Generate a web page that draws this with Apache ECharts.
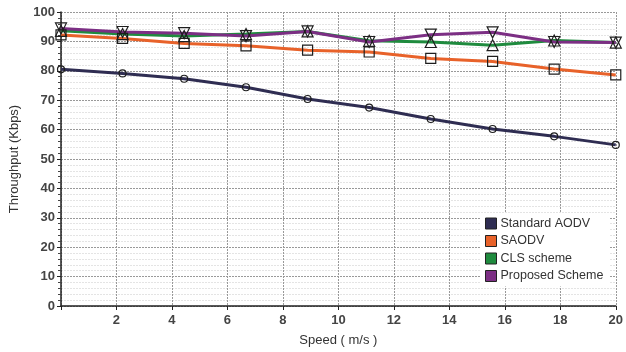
<!DOCTYPE html>
<html>
<head>
<meta charset="utf-8">
<script src="https://cdn.jsdelivr.net/npm/echarts@6/dist/echarts.min.js"></script>
<style>
  html, body { margin: 0; padding: 0; background: #fff; }
  #chart { width: 626px; height: 352px; }
</style>
</head>
<body>
<div id="chart"></div>
<script>
// Node speed (m/s) at each simulation run
const speeds = [0, 2.22, 4.44, 6.67, 8.89, 11.11, 13.33, 15.56, 17.78, 20];

// Throughput (Kbps) per routing scheme
const standardAodv = [80.5, 79.1, 77.3, 74.4, 70.4, 67.5, 63.6, 60.2, 57.7, 54.8];
const saodv = [92.2, 91.0, 89.3, 88.5, 87.0, 86.4, 84.2, 83.2, 80.6, 78.6];
const clsScheme = [93.6, 92.5, 91.8, 92.5, 93.4, 90.2, 89.8, 88.7, 90.3, 89.6];
const proposedScheme = [94.4, 93.2, 92.8, 91.8, 93.4, 89.8, 92.3, 93.1, 89.8, 89.6];

const seriesNames = ['Standard AODV', 'SAODV', 'CLS scheme', 'Proposed Scheme'];
const seriesColors = ['#2f2d52', '#e8622a', '#1f8b3e', '#7c2f84'];

const triDown = 'path://M0,0 L10,0 L5,9 Z';
const triUp = 'path://M5,0 L10,9 L0,9 Z';

function pairs(values) {
  return speeds.map((s, i) => [s, values[i]]);
}

function lineSeries(name, values, color, symbol, size) {
  return {
    name: name,
    type: 'line',
    data: pairs(values),
    symbol: symbol,
    symbolSize: size,
    lineStyle: { color: color, width: 3 },
    itemStyle: { color: 'rgba(255,255,255,0)', borderColor: '#1e1e1e', borderWidth: 1.2 },
    emphasis: { disabled: true },
    z: 3
  };
}

const chart = echarts.init(document.getElementById('chart'));
chart.setOption({
  animation: false,
  backgroundColor: '#fff',
  textStyle: { fontFamily: 'Liberation Sans, Arial, sans-serif' },
  grid: { left: 55, right: 5, top: 12, bottom: 45 },
  legend: {
    orient: 'vertical',
    left: 481,
    top: 213,
    padding: [4, 6, 4, 4],
    backgroundColor: '#fff',
    itemWidth: 11,
    itemHeight: 11,
    itemGap: 4.5,
    textStyle: { fontSize: 12.5, color: '#333', padding: [0, 0, 0, -1] },
    data: seriesNames.map((n, i) => ({
      name: n,
      icon: 'rect',
      itemStyle: { color: seriesColors[i], borderColor: '#222', borderWidth: 1 }
    }))
  },
  xAxis: {
    type: 'value',
    min: 0,
    max: 20,
    interval: 2,
    name: 'Speed ( m/s )',
    nameLocation: 'middle',
    nameGap: 28,
    nameTextStyle: { fontSize: 13, color: '#333' },
    axisLine: { lineStyle: { color: '#222', width: 1.5 } },
    axisTick: { show: true, length: 4, lineStyle: { color: '#222' } },
    axisLabel: {
      fontSize: 13, fontWeight: 'bold', color: '#444', margin: 8,
      formatter: v => (v === 0 ? '' : String(v))
    },
    splitLine: { show: true, lineStyle: { color: '#999', type: [2, 1], width: 1 } }
  },
  yAxis: {
    type: 'value',
    min: 0,
    max: 100,
    interval: 10,
    name: 'Throughput (Kbps)',
    nameLocation: 'middle',
    nameGap: 40,
    nameTextStyle: { fontSize: 13, color: '#333' },
    axisLine: { show: true, lineStyle: { color: '#222', width: 1.5 } },
    axisTick: { show: true, length: 4, lineStyle: { color: '#222' } },
    minorTick: { show: true, splitNumber: 5, length: 3, lineStyle: { color: '#444' } },
    minorSplitLine: { show: true, lineStyle: { color: '#e4e4e4', type: [2, 1] } },
    axisLabel: { fontSize: 13, fontWeight: 'bold', color: '#444', margin: 6 },
    splitLine: { show: true, lineStyle: { color: '#999', type: [2, 1], width: 1 } }
  },
  series: [
    lineSeries(seriesNames[0], standardAodv, seriesColors[0], 'circle', 7),
    lineSeries(seriesNames[1], saodv, seriesColors[1], 'rect', 10),
    lineSeries(seriesNames[2], clsScheme, seriesColors[2], triUp, 11),
    lineSeries(seriesNames[3], proposedScheme, seriesColors[3], triDown, 11)
  ]
});
</script>
</body>
</html>
